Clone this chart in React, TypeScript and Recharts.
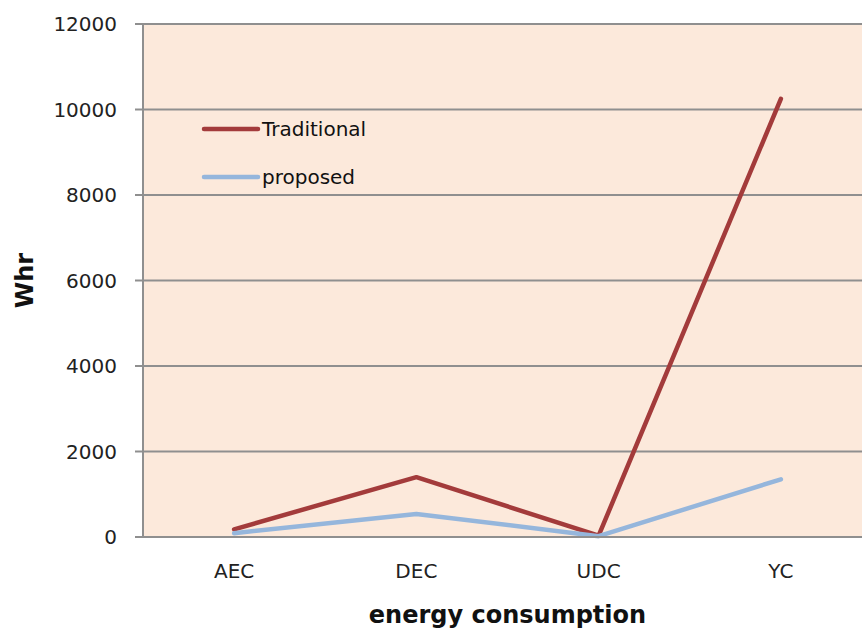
import React from 'react';
import { LineChart, Line, XAxis, YAxis, CartesianGrid, Legend, Label } from 'recharts';

const categories = ['AEC', 'DEC', 'UDC', 'YC'];
const traditional = [180, 1400, 30, 10250];
const proposed = [90, 540, 20, 1350];
const yTicks = [0, 2000, 4000, 6000, 8000, 10000, 12000];

const data = categories.map((c, i) => ({ name: c, Traditional: traditional[i], proposed: proposed[i] }));

const FONT = '"DejaVu Sans", Verdana, sans-serif';
const GRID = '#8f8f8f';

const LegendContent = (props: any) => {
  const payload = props.payload || [];
  return (
    <div style={{ position: 'relative', width: 200, height: 90 }}>
      {payload.map((p: any, i: number) => (
        <div key={p.value} style={{ position: 'absolute', left: 0, top: i * 48, height: 24, display: 'flex', alignItems: 'center' }}>
          <svg width={60} height={24} style={{ display: 'block' }}>
            <line x1={3} y1={12} x2={57} y2={12} stroke={p.color} strokeWidth={4.5} strokeLinecap="round" />
          </svg>
          <span style={{ fontFamily: FONT, fontSize: 20, color: '#111', marginLeft: 1, lineHeight: '24px' }}>{p.value}</span>
        </div>
      ))}
    </div>
  );
};

const YLabel = (props: any) => {
  const vb = props.viewBox || {};
  const cy = vb.y + vb.height / 2;
  const x = 33;
  return (
    <text x={x} y={cy} transform={`rotate(-90, ${x}, ${cy})`} textAnchor="middle" fontFamily={FONT} fontWeight="bold" fontSize={24} fill="#111">
      Whr
    </text>
  );
};

const XLabel = (props: any) => {
  const vb = props.viewBox || {};
  const cx = vb.x + vb.width / 2;
  return (
    <text x={cx} y={623} textAnchor="middle" fontFamily={FONT} fontWeight="bold" fontSize={24} fill="#111">
      energy consumption
    </text>
  );
};

export default function App() {
  return (
    <div style={{ position: 'fixed', left: 0, top: 0, width: 862, height: 628, overflow: 'hidden', background: '#fff' }}>
      <LineChart width={872} height={628} data={data} margin={{ top: 24, right: 0, bottom: 0, left: 0 }}>
        <CartesianGrid vertical={false} stroke={GRID} strokeWidth={2} fill="#FCE9DB" />
        <XAxis
          dataKey="name"
          scale="band"
          height={91}
          axisLine={{ stroke: GRID, strokeWidth: 2 }}
          tickLine={false}
          tickSize={0}
          tickMargin={27}
          tick={{ fontFamily: FONT, fontSize: 20, fill: '#222' }}
        >
          <Label content={<XLabel />} />
        </XAxis>
        <YAxis
          width={143}
          domain={[0, 12000]}
          ticks={yTicks}
          interval={0}
          axisLine={{ stroke: GRID, strokeWidth: 2 }}
          tickLine={{ stroke: GRID, strokeWidth: 2 }}
          tickSize={8}
          tickMargin={18}
          tick={{ fontFamily: FONT, fontSize: 20, fill: '#222' }}
        >
          <Label content={<YLabel />} />
        </YAxis>
        <Legend
          layout="horizontal"
          verticalAlign="middle"
          align="center"
          content={<LegendContent />}
          wrapperStyle={{ position: 'absolute', left: 201, top: 117, width: 200, height: 90 }}
        />
        <Line type="linear" dataKey="Traditional" stroke="#A33B3B" strokeWidth={4.5} dot={false} activeDot={false} isAnimationActive={false} strokeLinecap="round" strokeLinejoin="round" />
        <Line type="linear" dataKey="proposed" stroke="#95B6DC" strokeWidth={4.5} dot={false} activeDot={false} isAnimationActive={false} strokeLinecap="round" strokeLinejoin="round" />
      </LineChart>
    </div>
  );
}
